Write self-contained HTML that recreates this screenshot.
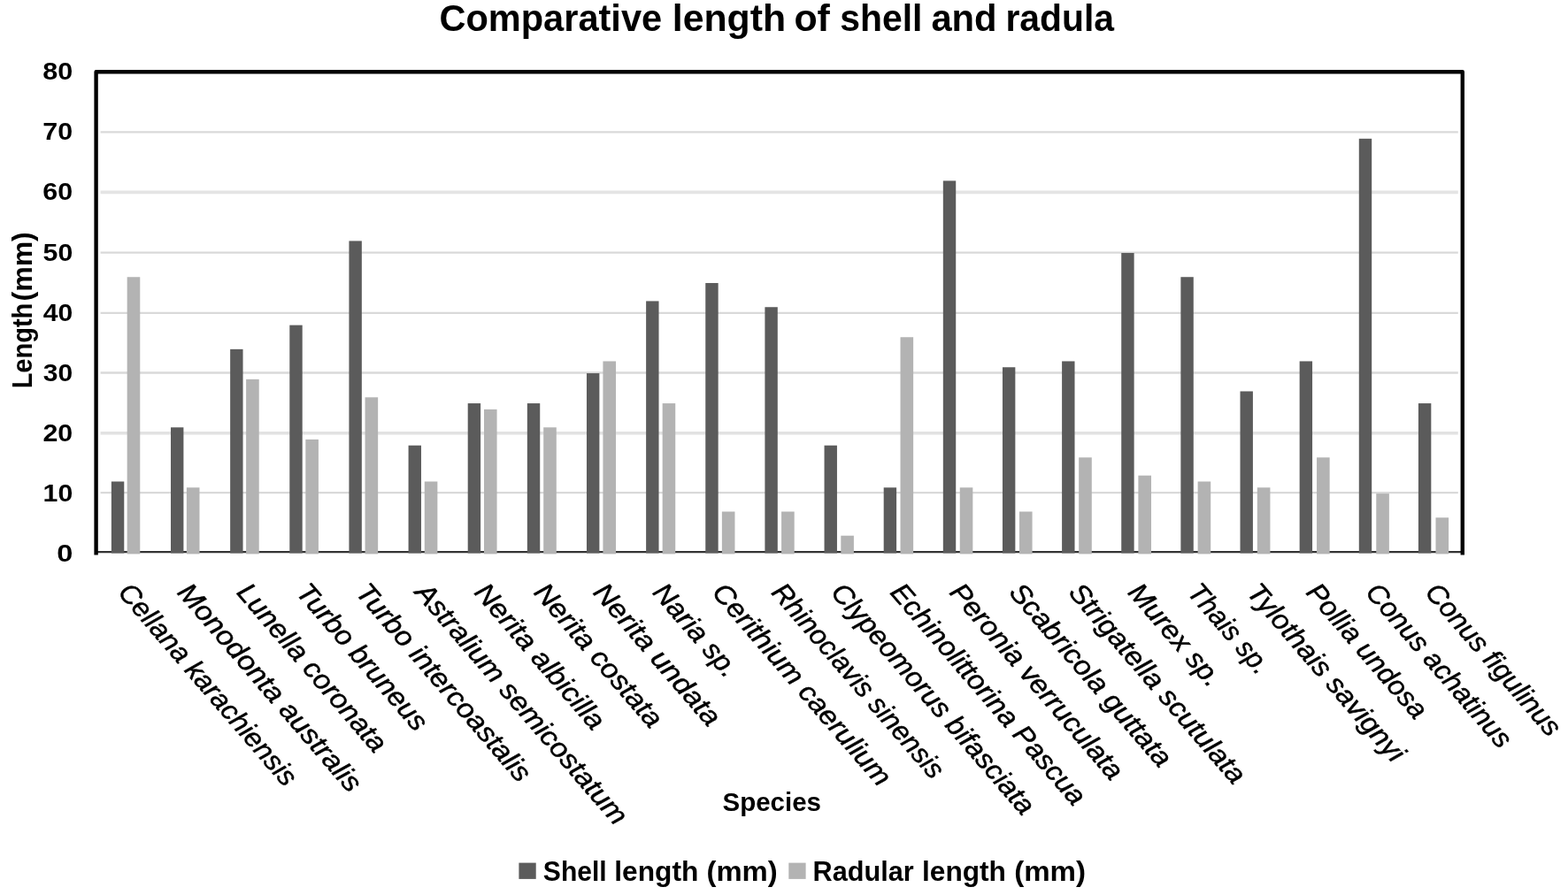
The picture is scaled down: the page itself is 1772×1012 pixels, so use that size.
<!DOCTYPE html>
<html lang="en"><head><meta charset="utf-8"><title>Comparative length of shell and radula</title>
<style>html,body{margin:0;padding:0;background:#fff}body{width:1772px;height:1012px;overflow:hidden}svg{display:block}
text{font-family:"Liberation Sans",sans-serif;fill:#000;white-space:pre}.b{font-weight:bold}.i{font-style:italic;stroke:#000;stroke-width:0.5px}</style></head><body>
<svg width="1772" height="1012" viewBox="0 0 1772 1012">
<rect width="1772" height="1012" fill="#fff"/>
<g stroke="#d9d9d9" stroke-width="2.3">
<line x1="113.6" y1="557.20" x2="1647.8" y2="557.20"/>
<line x1="113.6" y1="489.70" x2="1647.8" y2="489.70" stroke="#e2e2e2" stroke-width="3.4"/>
<line x1="113.6" y1="421.50" x2="1647.8" y2="421.50"/>
<line x1="113.6" y1="353.90" x2="1647.8" y2="353.90"/>
<line x1="113.6" y1="285.60" x2="1647.8" y2="285.60"/>
<line x1="113.6" y1="217.40" x2="1647.8" y2="217.40" stroke="#e4e4e4" stroke-width="3.6"/>
<line x1="113.6" y1="149.30" x2="1647.8" y2="149.30"/>
</g>
<line x1="108.6" y1="624.10" x2="1652.8" y2="624.10" stroke="#333333" stroke-width="2.4"/>
<g fill="#5b5b5b">
<rect x="125.87" y="544.48" width="14.40" height="81.02"/>
<rect x="193.01" y="483.27" width="14.40" height="142.23"/>
<rect x="260.15" y="394.86" width="14.40" height="230.64"/>
<rect x="327.29" y="367.65" width="14.40" height="257.85"/>
<rect x="394.43" y="272.44" width="14.40" height="353.06"/>
<rect x="461.57" y="503.68" width="14.40" height="121.82"/>
<rect x="528.70" y="456.07" width="14.40" height="169.43"/>
<rect x="595.84" y="456.07" width="14.40" height="169.43"/>
<rect x="662.98" y="422.06" width="14.40" height="203.44"/>
<rect x="730.12" y="340.45" width="14.40" height="285.05"/>
<rect x="797.26" y="320.04" width="14.40" height="305.46"/>
<rect x="864.40" y="347.25" width="14.40" height="278.25"/>
<rect x="931.54" y="503.68" width="14.40" height="121.82"/>
<rect x="998.68" y="551.29" width="14.40" height="74.21"/>
<rect x="1065.82" y="204.42" width="14.40" height="421.08"/>
<rect x="1132.96" y="415.26" width="14.40" height="210.24"/>
<rect x="1200.10" y="408.46" width="14.40" height="217.04"/>
<rect x="1267.23" y="286.04" width="14.40" height="339.46"/>
<rect x="1334.37" y="313.24" width="14.40" height="312.26"/>
<rect x="1401.51" y="442.47" width="14.40" height="183.03"/>
<rect x="1468.65" y="408.46" width="14.40" height="217.04"/>
<rect x="1535.79" y="156.81" width="14.40" height="468.69"/>
<rect x="1602.93" y="456.07" width="14.40" height="169.43"/>
</g>
<g fill="#b3b3b3">
<rect x="143.67" y="313.24" width="14.60" height="313.16"/>
<rect x="210.89" y="551.29" width="14.60" height="75.11"/>
<rect x="278.11" y="428.86" width="14.60" height="197.54"/>
<rect x="345.33" y="496.88" width="14.60" height="129.52"/>
<rect x="412.55" y="449.27" width="14.60" height="177.13"/>
<rect x="479.77" y="544.48" width="14.60" height="81.92"/>
<rect x="546.98" y="462.87" width="14.60" height="163.53"/>
<rect x="614.20" y="483.27" width="14.60" height="143.13"/>
<rect x="681.42" y="408.46" width="14.60" height="217.94"/>
<rect x="748.64" y="456.07" width="14.60" height="170.33"/>
<rect x="815.86" y="578.49" width="14.60" height="47.91"/>
<rect x="883.08" y="578.49" width="14.60" height="47.91"/>
<rect x="950.30" y="605.70" width="14.60" height="20.70"/>
<rect x="1017.52" y="381.25" width="14.60" height="245.14"/>
<rect x="1084.74" y="551.29" width="14.60" height="75.11"/>
<rect x="1151.96" y="578.49" width="14.60" height="47.91"/>
<rect x="1219.18" y="517.28" width="14.60" height="109.12"/>
<rect x="1286.39" y="537.68" width="14.60" height="88.72"/>
<rect x="1353.61" y="544.48" width="14.60" height="81.92"/>
<rect x="1420.83" y="551.29" width="14.60" height="75.11"/>
<rect x="1488.05" y="517.28" width="14.60" height="109.12"/>
<rect x="1555.27" y="558.09" width="14.60" height="68.31"/>
<rect x="1622.49" y="585.29" width="14.60" height="41.11"/>
</g>
<path d="M108.60 627.60 V81.20 H1652.80 V627.60" fill="none" stroke="#000" stroke-width="4.4" stroke-linejoin="round"/>
<text id="title" class="b" y="34.90" font-size="42.2"><tspan x="496.40" textLength="251.72" lengthAdjust="spacingAndGlyphs">Comparative</tspan> <tspan x="759.81" textLength="128.34" lengthAdjust="spacingAndGlyphs">length</tspan> <tspan x="897.42" textLength="40.49" lengthAdjust="spacingAndGlyphs">of</tspan> <tspan x="949.26" textLength="93.24" lengthAdjust="spacingAndGlyphs">shell</tspan> <tspan x="1052.38" textLength="74.28" lengthAdjust="spacingAndGlyphs">and</tspan> <tspan x="1136.41" textLength="122.63" lengthAdjust="spacingAndGlyphs">radula</tspan></text>
<text class="b" x="64.21" y="635.20" font-size="28.2" textLength="18.13" lengthAdjust="spacingAndGlyphs">0</text>
<text class="b" x="48.59" y="566.95" font-size="28.2" textLength="33.65" lengthAdjust="spacingAndGlyphs">10</text>
<text class="b" x="48.45" y="499.30" font-size="28.2" textLength="33.80" lengthAdjust="spacingAndGlyphs">20</text>
<text class="b" x="48.81" y="430.95" font-size="28.2" textLength="33.42" lengthAdjust="spacingAndGlyphs">30</text>
<text class="b" x="48.74" y="363.20" font-size="28.2" textLength="33.49" lengthAdjust="spacingAndGlyphs">40</text>
<text class="b" x="48.57" y="294.75" font-size="28.2" textLength="33.67" lengthAdjust="spacingAndGlyphs">50</text>
<text class="b" x="48.39" y="226.40" font-size="28.2" textLength="33.86" lengthAdjust="spacingAndGlyphs">60</text>
<text class="b" x="48.39" y="158.15" font-size="28.2" textLength="33.86" lengthAdjust="spacingAndGlyphs">70</text>
<text class="b" x="48.23" y="89.90" font-size="28.2" textLength="34.03" lengthAdjust="spacingAndGlyphs">80</text>
<text class="b" id="ylab" transform="translate(35.50 437.40) rotate(-90)" font-size="30.8"><tspan x="-1.94" textLength="96.64" lengthAdjust="spacingAndGlyphs">Length</tspan> <tspan x="96.90" textLength="78.29" lengthAdjust="spacingAndGlyphs">(mm)</tspan></text>
<text id="xlab" class="b" y="916.70" font-size="30.3"><tspan x="816.55" textLength="111.36" lengthAdjust="spacingAndGlyphs">Species</tspan></text>
<rect x="586.4" y="975.6" width="19.3" height="18.3" fill="#5b5b5b"/>
<text class="b" y="995.60" font-size="30.5"><tspan x="613.83" textLength="71.90" lengthAdjust="spacingAndGlyphs">Shell</tspan> <tspan x="694.29" textLength="95.08" lengthAdjust="spacingAndGlyphs">length</tspan> <tspan x="798.46" textLength="80.27" lengthAdjust="spacingAndGlyphs">(mm)</tspan></text>
<rect x="891.3" y="975.6" width="19.3" height="18.3" fill="#b3b3b3"/>
<text class="b" y="995.60" font-size="30.5"><tspan x="918.55" textLength="114.11" lengthAdjust="spacingAndGlyphs">Radular</tspan> <tspan x="1041.99" textLength="94.97" lengthAdjust="spacingAndGlyphs">length</tspan> <tspan x="1146.15" textLength="80.90" lengthAdjust="spacingAndGlyphs">(mm)</tspan></text>
<text class="i" transform="matrix(0.65210 0.75813 -0.75813 0.65210 132.17 670.50)" font-size="31.2" textLength="290.7" lengthAdjust="spacingAndGlyphs">Cellana karachiensis</text>
<text class="i" transform="matrix(0.65210 0.75813 -0.75813 0.65210 199.31 670.50)" font-size="31.2" textLength="299.7" lengthAdjust="spacingAndGlyphs">Monodonta australis</text>
<text class="i" transform="matrix(0.65210 0.75813 -0.75813 0.65210 266.45 670.50)" font-size="31.2" textLength="240.5" lengthAdjust="spacingAndGlyphs">Lunella coronata</text>
<text class="i" transform="matrix(0.65210 0.75813 -0.75813 0.65210 333.59 670.50)" font-size="31.2" textLength="208.4" lengthAdjust="spacingAndGlyphs">Turbo bruneus</text>
<text class="i" transform="matrix(0.65210 0.75813 -0.75813 0.65210 400.73 670.50)" font-size="31.2" textLength="284.6" lengthAdjust="spacingAndGlyphs">Turbo intercoastalis</text>
<text class="i" transform="matrix(0.65210 0.75813 -0.75813 0.65210 467.87 670.50)" font-size="31.2" textLength="348.7" lengthAdjust="spacingAndGlyphs">Astralium semicostatum</text>
<text class="i" transform="matrix(0.65210 0.75813 -0.75813 0.65210 535.00 670.50)" font-size="31.2" textLength="206.9" lengthAdjust="spacingAndGlyphs">Nerita albicilla</text>
<text class="i" transform="matrix(0.65210 0.75813 -0.75813 0.65210 602.14 670.50)" font-size="31.2" textLength="203.8" lengthAdjust="spacingAndGlyphs">Nerita costata</text>
<text class="i" transform="matrix(0.65210 0.75813 -0.75813 0.65210 669.28 670.50)" font-size="31.2" textLength="201.4" lengthAdjust="spacingAndGlyphs">Nerita undata</text>
<text class="i" transform="matrix(0.65210 0.75813 -0.75813 0.65210 736.42 670.50)" font-size="31.2" textLength="129.1" lengthAdjust="spacingAndGlyphs">Naria sp.</text>
<text class="i" transform="matrix(0.65210 0.75813 -0.75813 0.65210 803.56 670.50)" font-size="31.2" textLength="290.9" lengthAdjust="spacingAndGlyphs">Cerithium caerulium</text>
<text class="i" transform="matrix(0.65210 0.75813 -0.75813 0.65210 870.70 670.50)" font-size="31.2" textLength="279.6" lengthAdjust="spacingAndGlyphs">Rhinoclavis sinensis</text>
<text class="i" transform="matrix(0.65210 0.75813 -0.75813 0.65210 937.84 670.50)" font-size="31.2" textLength="333.6" lengthAdjust="spacingAndGlyphs">Clypeomorus bifasciata</text>
<text class="i" transform="matrix(0.65210 0.75813 -0.75813 0.65210 1004.98 670.50)" font-size="31.2" textLength="319.5" lengthAdjust="spacingAndGlyphs">Echinolittorina Pascua</text>
<text class="i" transform="matrix(0.65210 0.75813 -0.75813 0.65210 1072.12 670.50)" font-size="31.2" textLength="281.4" lengthAdjust="spacingAndGlyphs">Peronia verruculata</text>
<text class="i" transform="matrix(0.65210 0.75813 -0.75813 0.65210 1139.26 670.50)" font-size="31.2" textLength="262.3" lengthAdjust="spacingAndGlyphs">Scabricola guttata</text>
<text class="i" transform="matrix(0.65210 0.75813 -0.75813 0.65210 1206.40 670.50)" font-size="31.2" textLength="287.5" lengthAdjust="spacingAndGlyphs">Strigatella scutulata</text>
<text class="i" transform="matrix(0.65210 0.75813 -0.75813 0.65210 1273.53 670.50)" font-size="31.2" textLength="143.0" lengthAdjust="spacingAndGlyphs">Murex sp.</text>
<text class="i" transform="matrix(0.65210 0.75813 -0.75813 0.65210 1340.67 670.50)" font-size="31.2" textLength="124.1" lengthAdjust="spacingAndGlyphs">Thais sp.</text>
<text class="i" transform="matrix(0.65210 0.75813 -0.75813 0.65210 1407.81 670.50)" font-size="31.2" textLength="254.8" lengthAdjust="spacingAndGlyphs">Tylothais savignyi</text>
<text class="i" transform="matrix(0.65210 0.75813 -0.75813 0.65210 1474.95 670.50)" font-size="31.2" textLength="190.5" lengthAdjust="spacingAndGlyphs">Pollia undosa</text>
<text class="i" transform="matrix(0.65210 0.75813 -0.75813 0.65210 1542.09 670.50)" font-size="31.2" textLength="234.0" lengthAdjust="spacingAndGlyphs">Conus achatinus</text>
<text class="i" transform="matrix(0.65210 0.75813 -0.75813 0.65210 1609.23 670.50)" font-size="31.2" textLength="216.4" lengthAdjust="spacingAndGlyphs">Conus figulinus</text>
</svg></body></html>
